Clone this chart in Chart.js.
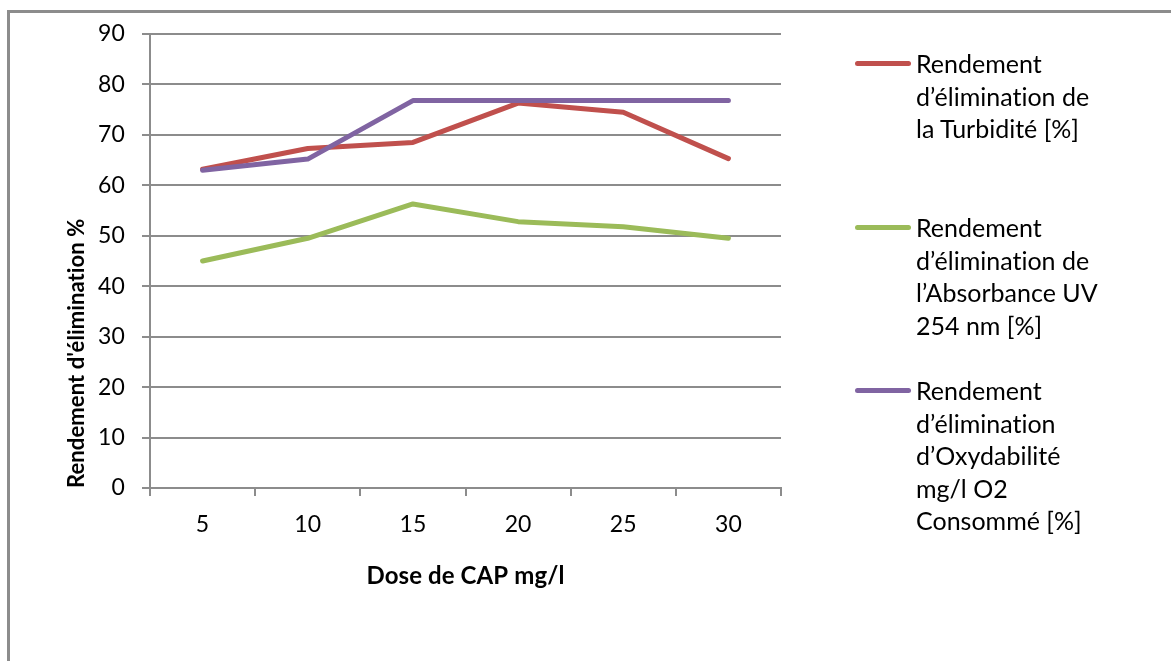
<!DOCTYPE html>
<html lang="fr">
<head>
<meta charset="utf-8">
<title>Rendement d'élimination selon la dose de CAP</title>
<script src="https://cdn.jsdelivr.net/npm/chart.js@4.4.1/dist/chart.umd.min.js"></script>
<style>
  html, body { margin: 0; padding: 0; background: #fff; overflow: hidden; }
  #wrap { position: relative; width: 1171px; height: 661px; overflow: hidden; }
  #frame {
    position: absolute; left: 7px; top: 10px; width: 1300px; height: 800px;
    border: 3px solid #8c8c8c; box-sizing: border-box;
  }
  canvas { position: absolute; left: 0; top: 0; }
  .leg-item {
    position: absolute; left: 855px; font-family: Lato, "Open Sans", sans-serif;
    font-size: 25px; line-height: 32.5px; color: #000;
    font-variant-ligatures: none; font-feature-settings: "liga" 0, "clig" 0;
  }
  .leg-line { position: absolute; left: 0; top: 14px; width: 56px; height: 5px; border-radius: 3px; }
  .leg-text { position: absolute; left: 61px; top: 0; white-space: nowrap; }
</style>
</head>
<body>
<div id="wrap">
  <div id="frame"></div>
  <canvas id="chart" width="1171" height="661"></canvas>
  <div id="legend"></div>
</div>
<script>
// Doses de charbon actif en poudre (mg/l)
const doses = ['5', '10', '15', '20', '25', '30'];

// Rendements d'élimination (%)
const turbidite = [63.2, 67.3, 68.5, 76.3, 74.5, 65.3];
const absorbanceUV = [45.0, 49.5, 56.3, 52.8, 51.8, 49.5];
const oxydabilite = [63.0, 65.2, 76.8, 76.8, 76.8, 76.8];

// Graduations de l'axe vertical
const yTicks = [0, 10, 20, 30, 40, 50, 60, 70, 80, 90];

// Libellés de la légende, ligne par ligne
const labelTurbidite = ['Rendement', 'd’élimination de', 'la Turbidité [%]'];
const labelAbsorbance = ['Rendement', 'd’élimination de', 'l’Absorbance UV', '254 nm [%]'];
const labelOxydabilite = ['Rendement', 'd’élimination', 'd’Oxydabilité', 'mg/l O2', 'Consommé [%]'];

const xTitle = 'Dose de CAP mg/l';
const yTitle = "Rendement d'élimination %";

const COLORS = { red: '#C0504D', green: '#9BBB59', purple: '#8064A2' };
const GRID = '#8c8c8c';
const FONT = 'Lato, "Open Sans", sans-serif';

function series(label, data, color, order) {
  return {
    label: label.join(' '),
    lines: label,
    data: data,
    borderColor: color,
    backgroundColor: color,
    borderWidth: 5,
    borderCapStyle: 'round',
    borderJoinStyle: 'round',
    pointRadius: 0,
    pointHoverRadius: 0,
    tension: 0,
    fill: false,
    order: order
  };
}

// Évite les ligatures « ti » de la police dans les textes du canvas
const noLigatures = {
  id: 'noLigatures',
  beforeDraw(c) { c.ctx.letterSpacing = '0.1px'; }
};

const chart = new Chart(document.getElementById('chart'), {
  type: 'line',
  data: {
    labels: doses,
    datasets: [
      series(labelTurbidite, turbidite, COLORS.red, 2),
      series(labelAbsorbance, absorbanceUV, COLORS.green, 1),
      series(labelOxydabilite, oxydabilite, COLORS.purple, 0)
    ]
  },
  plugins: [noLigatures],
  options: {
    responsive: false,
    animation: false,
    devicePixelRatio: 1,
    layout: { padding: { left: 0, top: 34, right: 390, bottom: 70 } },
    plugins: {
      legend: { display: false },
      tooltip: { enabled: false }
    },
    scales: {
      x: {
        type: 'category',
        offset: true,
        afterFit: s => { s.height = 103; },
        grid: {
          offset: true,
          drawOnChartArea: false,
          drawTicks: true,
          tickLength: 8,
          color: GRID,
          lineWidth: 2
        },
        border: { display: true, color: GRID, width: 2 },
        ticks: {
          color: '#000',
          padding: 15,
          maxRotation: 0,
          font: { family: FONT, size: 23 }
        },
        title: {
          display: true,
          text: xTitle,
          color: '#000',
          padding: { top: 0, bottom: 0 },
          font: { family: FONT, size: 24, weight: 'bold' }
        }
      },
      y: {
        min: yTicks[0],
        max: yTicks[yTicks.length - 1],
        afterFit: s => { s.width = 150; },
        afterBuildTicks: s => { s.ticks = yTicks.map(v => ({ value: v })); },
        grid: {
          drawTicks: true,
          tickLength: 8,
          color: GRID,
          lineWidth: 2
        },
        border: { display: true, color: GRID, width: 2 },
        ticks: {
          color: '#000',
          padding: 17,
          font: { family: FONT, size: 23 }
        },
        title: {
          display: true,
          text: yTitle,
          align: 'start',
          color: '#000',
          padding: { top: 64, bottom: 0 },
          font: { family: FONT, size: 22, weight: 'bold' }
        }
      }
    }
  }
});

// Légende à droite, construite à partir des séries du graphique
const legendTops = [47, 211, 374];
const legend = document.getElementById('legend');
chart.data.datasets.forEach((ds, i) => {
  const item = document.createElement('div');
  item.className = 'leg-item';
  item.style.top = legendTops[i] + 'px';
  const line = document.createElement('div');
  line.className = 'leg-line';
  line.style.background = ds.borderColor;
  const text = document.createElement('div');
  text.className = 'leg-text';
  ds.lines.forEach((l, k) => {
    if (k) text.appendChild(document.createElement('br'));
    text.appendChild(document.createTextNode(l));
  });
  item.appendChild(line);
  item.appendChild(text);
  legend.appendChild(item);
});
</script>
</body>
</html>
